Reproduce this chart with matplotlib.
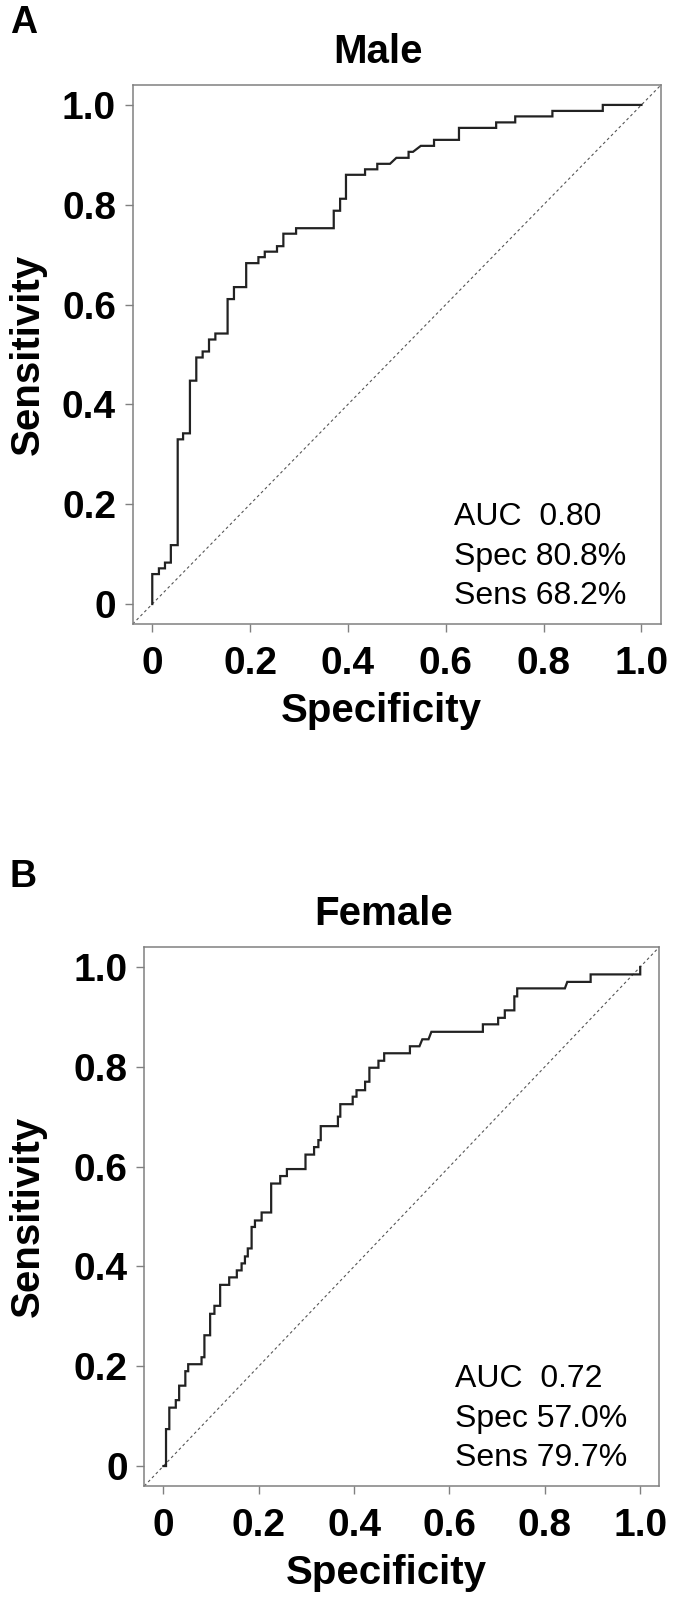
import matplotlib
matplotlib.use("Agg")
import matplotlib.pyplot as plt

plt.rcParams["font.family"] = ["Liberation Sans", "DejaVu Sans"]

# ROC step curves, vertices
male_x = [0, 0, 0.0136, 0.0136, 0.026, 0.026, 0.038, 0.038, 0.052, 0.052,
          0.063, 0.063, 0.077, 0.077, 0.090, 0.090, 0.103, 0.103, 0.116, 0.116,
          0.129, 0.129, 0.154, 0.154, 0.167, 0.167, 0.192, 0.192, 0.217, 0.217,
          0.230, 0.230, 0.255, 0.255, 0.268, 0.268, 0.294, 0.294, 0.371, 0.371,
          0.384, 0.384, 0.396, 0.396, 0.435, 0.435, 0.460, 0.460, 0.486, 0.499,
          0.524, 0.524, 0.533, 0.549, 0.576, 0.576, 0.627, 0.627, 0.703, 0.703,
          0.742, 0.742, 0.818, 0.818, 0.921, 0.921, 1.0]
male_y = [0, 0.060, 0.060, 0.0715, 0.0715, 0.083, 0.083, 0.118, 0.118, 0.330,
          0.330, 0.342, 0.342, 0.4475, 0.4475, 0.494, 0.494, 0.506, 0.506, 0.530,
          0.530, 0.542, 0.542, 0.611, 0.611, 0.635, 0.635, 0.683, 0.683, 0.695,
          0.695, 0.706, 0.706, 0.717, 0.717, 0.742, 0.742, 0.753, 0.753, 0.788,
          0.788, 0.812, 0.812, 0.860, 0.860, 0.871, 0.871, 0.882, 0.882, 0.894,
          0.894, 0.906, 0.906, 0.918, 0.918, 0.930, 0.930, 0.954, 0.954, 0.965,
          0.965, 0.977, 0.977, 0.988, 0.988, 1.0, 1.0]

female_x = [0, 0.0055, 0.0055, 0.0124, 0.0124, 0.026, 0.026, 0.033, 0.033, 0.046,
            0.046, 0.052, 0.052, 0.080, 0.080, 0.086, 0.086, 0.098, 0.098, 0.107,
            0.107, 0.119, 0.119, 0.138, 0.138, 0.154, 0.154, 0.164, 0.164, 0.171,
            0.171, 0.177, 0.177, 0.185, 0.185, 0.192, 0.192, 0.206, 0.206, 0.226,
            0.226, 0.245, 0.245, 0.259, 0.259, 0.298, 0.298, 0.316, 0.316, 0.325,
            0.325, 0.330, 0.330, 0.366, 0.366, 0.371, 0.371, 0.397, 0.397, 0.405,
            0.405, 0.423, 0.423, 0.432, 0.432, 0.451, 0.451, 0.463, 0.463, 0.517,
            0.517, 0.537, 0.543, 0.556, 0.562, 0.670, 0.670, 0.702, 0.702, 0.716,
            0.716, 0.736, 0.736, 0.742, 0.742, 0.842, 0.847, 0.896, 0.896, 1.0, 1.0]
female_y = [0, 0, 0.074, 0.074, 0.117, 0.117, 0.132, 0.132, 0.161, 0.161,
            0.190, 0.190, 0.204, 0.204, 0.218, 0.218, 0.262, 0.262, 0.305, 0.305,
            0.321, 0.321, 0.363, 0.363, 0.378, 0.378, 0.392, 0.392, 0.406, 0.406,
            0.420, 0.420, 0.436, 0.436, 0.479, 0.479, 0.492, 0.492, 0.508, 0.508,
            0.566, 0.566, 0.581, 0.581, 0.595, 0.595, 0.624, 0.624, 0.639, 0.639,
            0.653, 0.653, 0.681, 0.681, 0.700, 0.700, 0.725, 0.725, 0.740, 0.740,
            0.753, 0.753, 0.770, 0.770, 0.798, 0.798, 0.812, 0.812, 0.827, 0.827,
            0.841, 0.841, 0.855, 0.855, 0.870, 0.870, 0.885, 0.885, 0.898, 0.898,
            0.913, 0.913, 0.941, 0.941, 0.957, 0.957, 0.970, 0.970, 0.985, 0.985, 1.0]

tick_values = [0, 0.2, 0.4, 0.6, 0.8, 1.0]
tick_labels = ["0", "0.2", "0.4", "0.6", "0.8", "1.0"]

male_stats = ["AUC  0.80", "Spec 80.8%", "Sens 68.2%"]
female_stats = ["AUC  0.72", "Spec 57.0%", "Sens 79.7%"]

box_color = "#808080"


def plot_roc(ax, xs, ys, stats, title, ylab_x, text_x):
    # chance line across the whole panel
    ax.axline((0, 0), (1, 1), color="#555555", lw=0.8, ls=(0, (2.5, 2.5)))
    ax.plot(xs, ys, color="#222222", lw=1.6, solid_joinstyle="miter")

    ax.set_xlim(-0.04, 1.04)
    ax.set_ylim(-0.04, 1.04)
    ax.set_xticks(tick_values, tick_labels, fontweight="bold")
    ax.set_yticks(tick_values, tick_labels, fontweight="bold")
    ax.tick_params(axis="both", length=5.5, width=1.0, color=box_color,
                   labelsize=28)
    ax.tick_params(axis="x", pad=10.5)
    ax.tick_params(axis="y", pad=6.5)
    for s in ax.spines.values():
        s.set_color(box_color)
        s.set_linewidth(1.1)

    ax.set_xlabel("Specificity", fontsize=29, fontweight="bold", va="baseline")
    ax.xaxis.set_label_coords(0.47, -0.182)
    ax.set_ylabel("Sensitivity", fontsize=29, fontweight="bold", va="center")
    ax.yaxis.set_label_coords(ylab_x, 0.5)

    ax.text(0.465, 1.04, title, transform=ax.transAxes, ha="center",
            va="baseline", fontsize=29, fontweight="bold")

    # AUC / spec / sens block in the lower right
    for i, line in enumerate(stats):
        ax.text(text_x, 0.158 - 0.079 * i, line, ha="left", va="baseline",
                fontsize=23)


fig = plt.figure(figsize=(6.76, 16), dpi=100)
ax1 = fig.add_axes([0.1963, 0.61, 0.7815, 0.3369])
ax2 = fig.add_axes([0.2135, 0.07125, 0.7618, 0.3369])

plot_roc(ax1, male_x, male_y, male_stats, "Male", -0.198, 0.6165)
plot_roc(ax2, female_x, female_y, female_stats, "Female", -0.226, 0.611)

# panel letters
fig.text(10 / 676, 1 - 33 / 1600, "A", fontsize=27, fontweight="bold",
         va="baseline")
fig.text(10 / 676, 1 - 887 / 1600, "B", fontsize=27, fontweight="bold",
         va="baseline")

fig.savefig("out.png", dpi=100)
